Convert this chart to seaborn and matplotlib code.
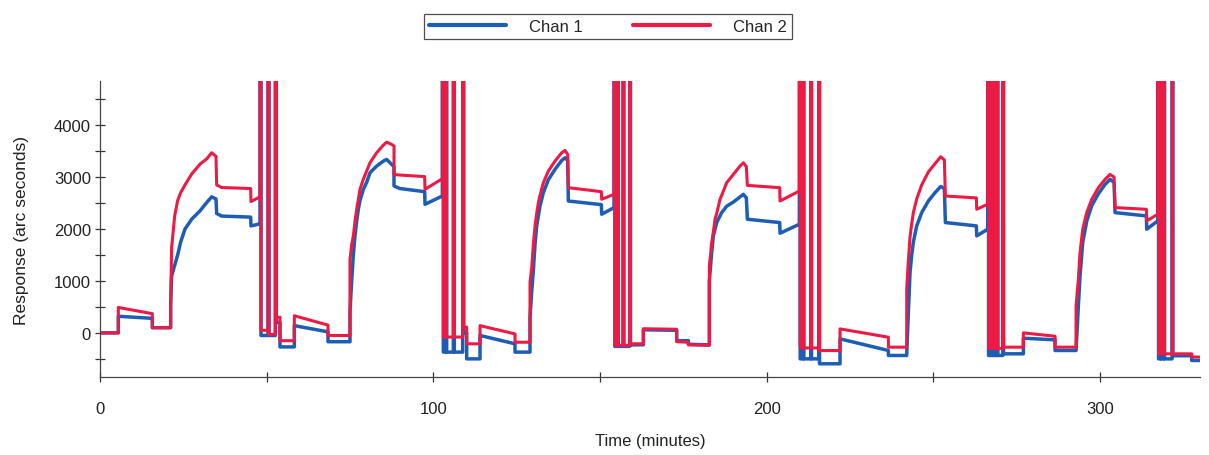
import pandas as pd
import matplotlib
matplotlib.use("Agg")
import matplotlib.pyplot as plt
import seaborn as sns

# Trace vertices (time in minutes, response in arc seconds).
# Repeated times are vertical jumps; 6000 marks the off-scale spikes.
time_min = [
    # cycle 1
    0, 5.5, 5.5, 15.7, 15.7, 21.2, 21.2, 21.5, 22.4, 23.3, 24.2, 25.5, 27.5, 30, 32, 33.5, 34.8, 35.0, 36.5, 45.2, 45.3, 48.0,
    48.0, 48.3, 48.3, 50.4, 50.4, 50.7, 50.7, 52.6, 52.6, 52.9, 52.9, 54, 54, 58.3, 58.3, 68.4, 68.4, 75,
    # cycle 2
    75, 75.5, 76.0, 76.5, 77.0, 77.5, 78.0, 79.0, 80.0, 81.0, 83.0, 85.0, 86.0, 87.5, 88.2, 88.2, 90, 97.4, 97.5, 102.7,
    102.7, 103.0, 103.0, 103.7, 103.7, 104.0, 104.0, 106.0, 106.0, 106.3, 106.3, 108.8, 108.8, 109.1, 109.1, 110, 110, 114, 114, 124.5, 124.5, 129,
    # cycle 3
    129, 129.5, 130.0, 130.5, 131.0, 131.5, 132.0, 133.0, 134.5, 136.5, 138.5, 139.5, 140.3, 140.5, 150.4, 150.5, 154.2,
    154.2, 154.45, 154.45, 155.2, 155.2, 155.45, 155.45, 156.9, 156.9, 157.15, 157.15, 158.9, 158.9, 159.15, 159.15, 163, 163, 173, 173, 176.5, 176.5, 182.8,
    # cycle 4
    182.8, 183.5, 184.0, 184.5, 185.0, 186.0, 186.5, 188.0, 190.0, 192.0, 193.0, 193.9, 194.2, 203.9, 204.0, 209.8,
    209.8, 210.05, 210.05, 210.9, 210.9, 211.15, 211.15, 213.2, 213.2, 213.45, 213.45, 215.6, 215.6, 215.85, 215.85, 222, 222, 236.5, 236.5, 242,
    # cycle 5
    242.0, 242.5, 243.0, 243.5, 244.0, 245.0, 246.5, 248.5, 250.5, 252.2, 253.3, 253.6, 262.9, 263.0, 266.3,
    266.3, 266.55, 266.55, 267.2, 267.2, 267.45, 267.45, 268.1, 268.1, 268.35, 268.35, 269.1, 269.1, 269.35, 269.35, 270.8, 270.8, 271.05, 271.05, 277, 277, 286.5, 286.5, 292.8,
    # cycle 6
    292.8, 293.5, 294.0, 294.8, 296.0, 297.5, 299.5, 301.5, 303.0, 304.2, 304.5, 313.9, 314.0, 317.3,
    317.3, 317.55, 317.55, 318.2, 318.2, 318.45, 318.45, 319.1, 319.1, 319.35, 319.35, 321.6, 321.6, 321.85, 321.85, 327.5, 327.5, 330,
]

chan_1 = [
    0, 0, 320, 280, 100, 100, 550, 1100, 1300, 1500, 1750, 2000, 2190, 2350, 2510, 2620, 2580, 2300, 2250, 2230, 2060, 2100,
    6000, 6000, -50, -50, 6000, 6000, -50, -50, 6000, 6000, 200, 200, -270, -270, 140, 20, -170, -170,
    400, 1000, 1500, 1870, 2150, 2380, 2550, 2765, 2900, 3085, 3213, 3309, 3341, 3245, 3200, 2829, 2780, 2720, 2477, 2636,
    6000, 6000, -370, -370, 6000, 6000, -370, -370, 6000, 6000, -370, -370, 6000, 6000, 0, 0, -500, -500, -50, -210, -370, -370,
    300, 787, 1200, 1700, 2060, 2250, 2445, 2700, 2950, 3150, 3320, 3373, 3320, 2540, 2470, 2285, 2413,
    6000, 6000, -260, -260, 6000, 6000, -260, -260, 6000, 6000, -260, -260, 6000, 6000, -230, -230, 60, 50, -150, -150, -220, -230,
    1000, 1550, 1869, 2000, 2125, 2250, 2317, 2440, 2520, 2620, 2669, 2600, 2189, 2125, 1920, 2093,
    6000, 6000, -500, -500, 6000, 6000, -500, -500, 6000, 6000, -500, -500, 6000, 6000, -595, -595, -115, -339, -435, -435,
    -435, 397, 1165, 1500, 1750, 2060, 2317, 2541, 2701, 2820, 2780, 2125, 2061, 1869, 1997,
    6000, 6000, -435, -435, 6000, 6000, -435, -435, 6000, 6000, -435, -435, 6000, 6000, -435, -435, 6000, 6000, -403, -403, -102, -134, -339, -339,
    -339, 525, 1100, 1741, 2150, 2450, 2680, 2860, 2957, 2900, 2317, 2253, 1997, 2157,
    6000, 6000, -500, -500, 6000, 6000, -500, -500, 6000, 6000, -500, -500, 6000, 6000, -440, -440, -531, -531,
]

chan_2 = [
    0, 0, 490, 370, 100, 100, 600, 1650, 2250, 2550, 2700, 2850, 3060, 3250, 3350, 3470, 3400, 2850, 2800, 2780, 2530, 2620,
    6000, 6000, 50, 50, 6000, 6000, -30, -30, 6000, 6000, 300, 300, -150, -150, 330, 150, -50, -50,
    1420, 1700, 1870, 2150, 2380, 2570, 2765, 2960, 3120, 3277, 3470, 3616, 3674, 3629, 3600, 3050, 3040, 3010, 2765, 2970,
    6000, 6000, -80, -80, 6000, 6000, -80, -80, 6000, 6000, -80, -80, 6000, 6000, 110, 110, -210, -210, 140, -20, -180, -180,
    980, 1250, 1700, 2060, 2300, 2509, 2650, 2893, 3117, 3309, 3469, 3514, 3440, 2797, 2720, 2573, 2670,
    6000, 6000, -240, -240, 6000, 6000, -240, -240, 6000, 6000, -240, -240, 6000, 6000, -210, -210, 80, 70, -170, -180, -230, -240,
    1290, 1741, 1950, 2189, 2300, 2573, 2650, 2893, 3053, 3213, 3277, 3200, 2841, 2797, 2540, 2733,
    6000, 6000, -290, -290, 6000, 6000, -290, -290, 6000, 6000, -290, -290, 6000, 6000, -340, -340, 77, -83, -275, -275,
    845, 1400, 1850, 2100, 2317, 2580, 2850, 3100, 3260, 3392, 3330, 2636, 2600, 2381, 2477,
    6000, 6000, -300, -300, 6000, 6000, -300, -300, 6000, 6000, -300, -300, 6000, 6000, -300, -300, 6000, 6000, -275, -275, 0, -64, -275, -275,
    525, 1037, 1549, 1997, 2317, 2573, 2797, 2957, 3053, 3000, 2413, 2381, 2157, 2285,
    6000, 6000, -403, -403, 6000, 6000, -403, -403, 6000, 6000, -403, -403, 6000, 6000, -403, -403, -465, -465,
]

x_ticks = [0, 100, 200, 300]
y_ticks = [0, 1000, 2000, 3000, 4000]

assert len(time_min) == len(chan_1) == len(chan_2)
df = pd.DataFrame({"time": time_min, "Chan 1": chan_1, "Chan 2": chan_2})

sns.set_style("ticks")
plt.rcParams["font.family"] = ["Liberation Sans", "DejaVu Sans"]

fig = plt.figure(figsize=(12.09, 4.56), dpi=100)
ax = fig.add_axes([0.0827, 0.171, 0.9099, 0.649])

blue = "#1d5db5"
red = "#ec1a45"
sns.lineplot(data=df, x="time", y="Chan 1", estimator=None, sort=False, ax=ax,
             color=blue, lw=2.5, label="Chan 1")
sns.lineplot(data=df, x="time", y="Chan 2", estimator=None, sort=False, ax=ax,
             color=red, lw=2.2, label="Chan 2")

ax.set_xlim(0, 330)
ax.set_ylim(-850, 4850)
ax.set_xticks(x_ticks)
ax.set_xticks([50, 150, 250], minor=True)
ax.set_yticks(y_ticks)
ax.set_yticks([-500, 500, 1500, 2500, 3500, 4500], minor=True)
ax.tick_params(axis="both", which="both", direction="inout", length=7, width=0.9,
               color="#333333", labelcolor="#222222", labelsize=12)
ax.tick_params(axis="x", which="both", pad=14)
ax.tick_params(axis="y", which="both", pad=3)
sns.despine(ax=ax)
for s in ["left", "bottom"]:
    ax.spines[s].set_color("#444444")
    ax.spines[s].set_linewidth(0.9)

ax.set_xlabel("Time (minutes)", fontsize=12, color="#222222", labelpad=12)
ax.set_ylabel("Response (arc seconds)", fontsize=12.5, color="#222222", labelpad=18)

handles, labels = ax.get_legend_handles_labels()
ax.get_legend().remove()
leg = fig.legend(handles, labels, loc="center", bbox_to_anchor=(0.503, 0.94), ncol=2,
                 fontsize=12, frameon=True, fancybox=False, handlelength=4.6,
                 handletextpad=1.4, columnspacing=3.0, borderpad=0.3,
                 borderaxespad=0)
leg.get_frame().set_edgecolor("#222222")
leg.get_frame().set_linewidth(0.9)
for h in leg.get_lines():
    h.set_linewidth(3)

fig.savefig("out.png", dpi=100)
